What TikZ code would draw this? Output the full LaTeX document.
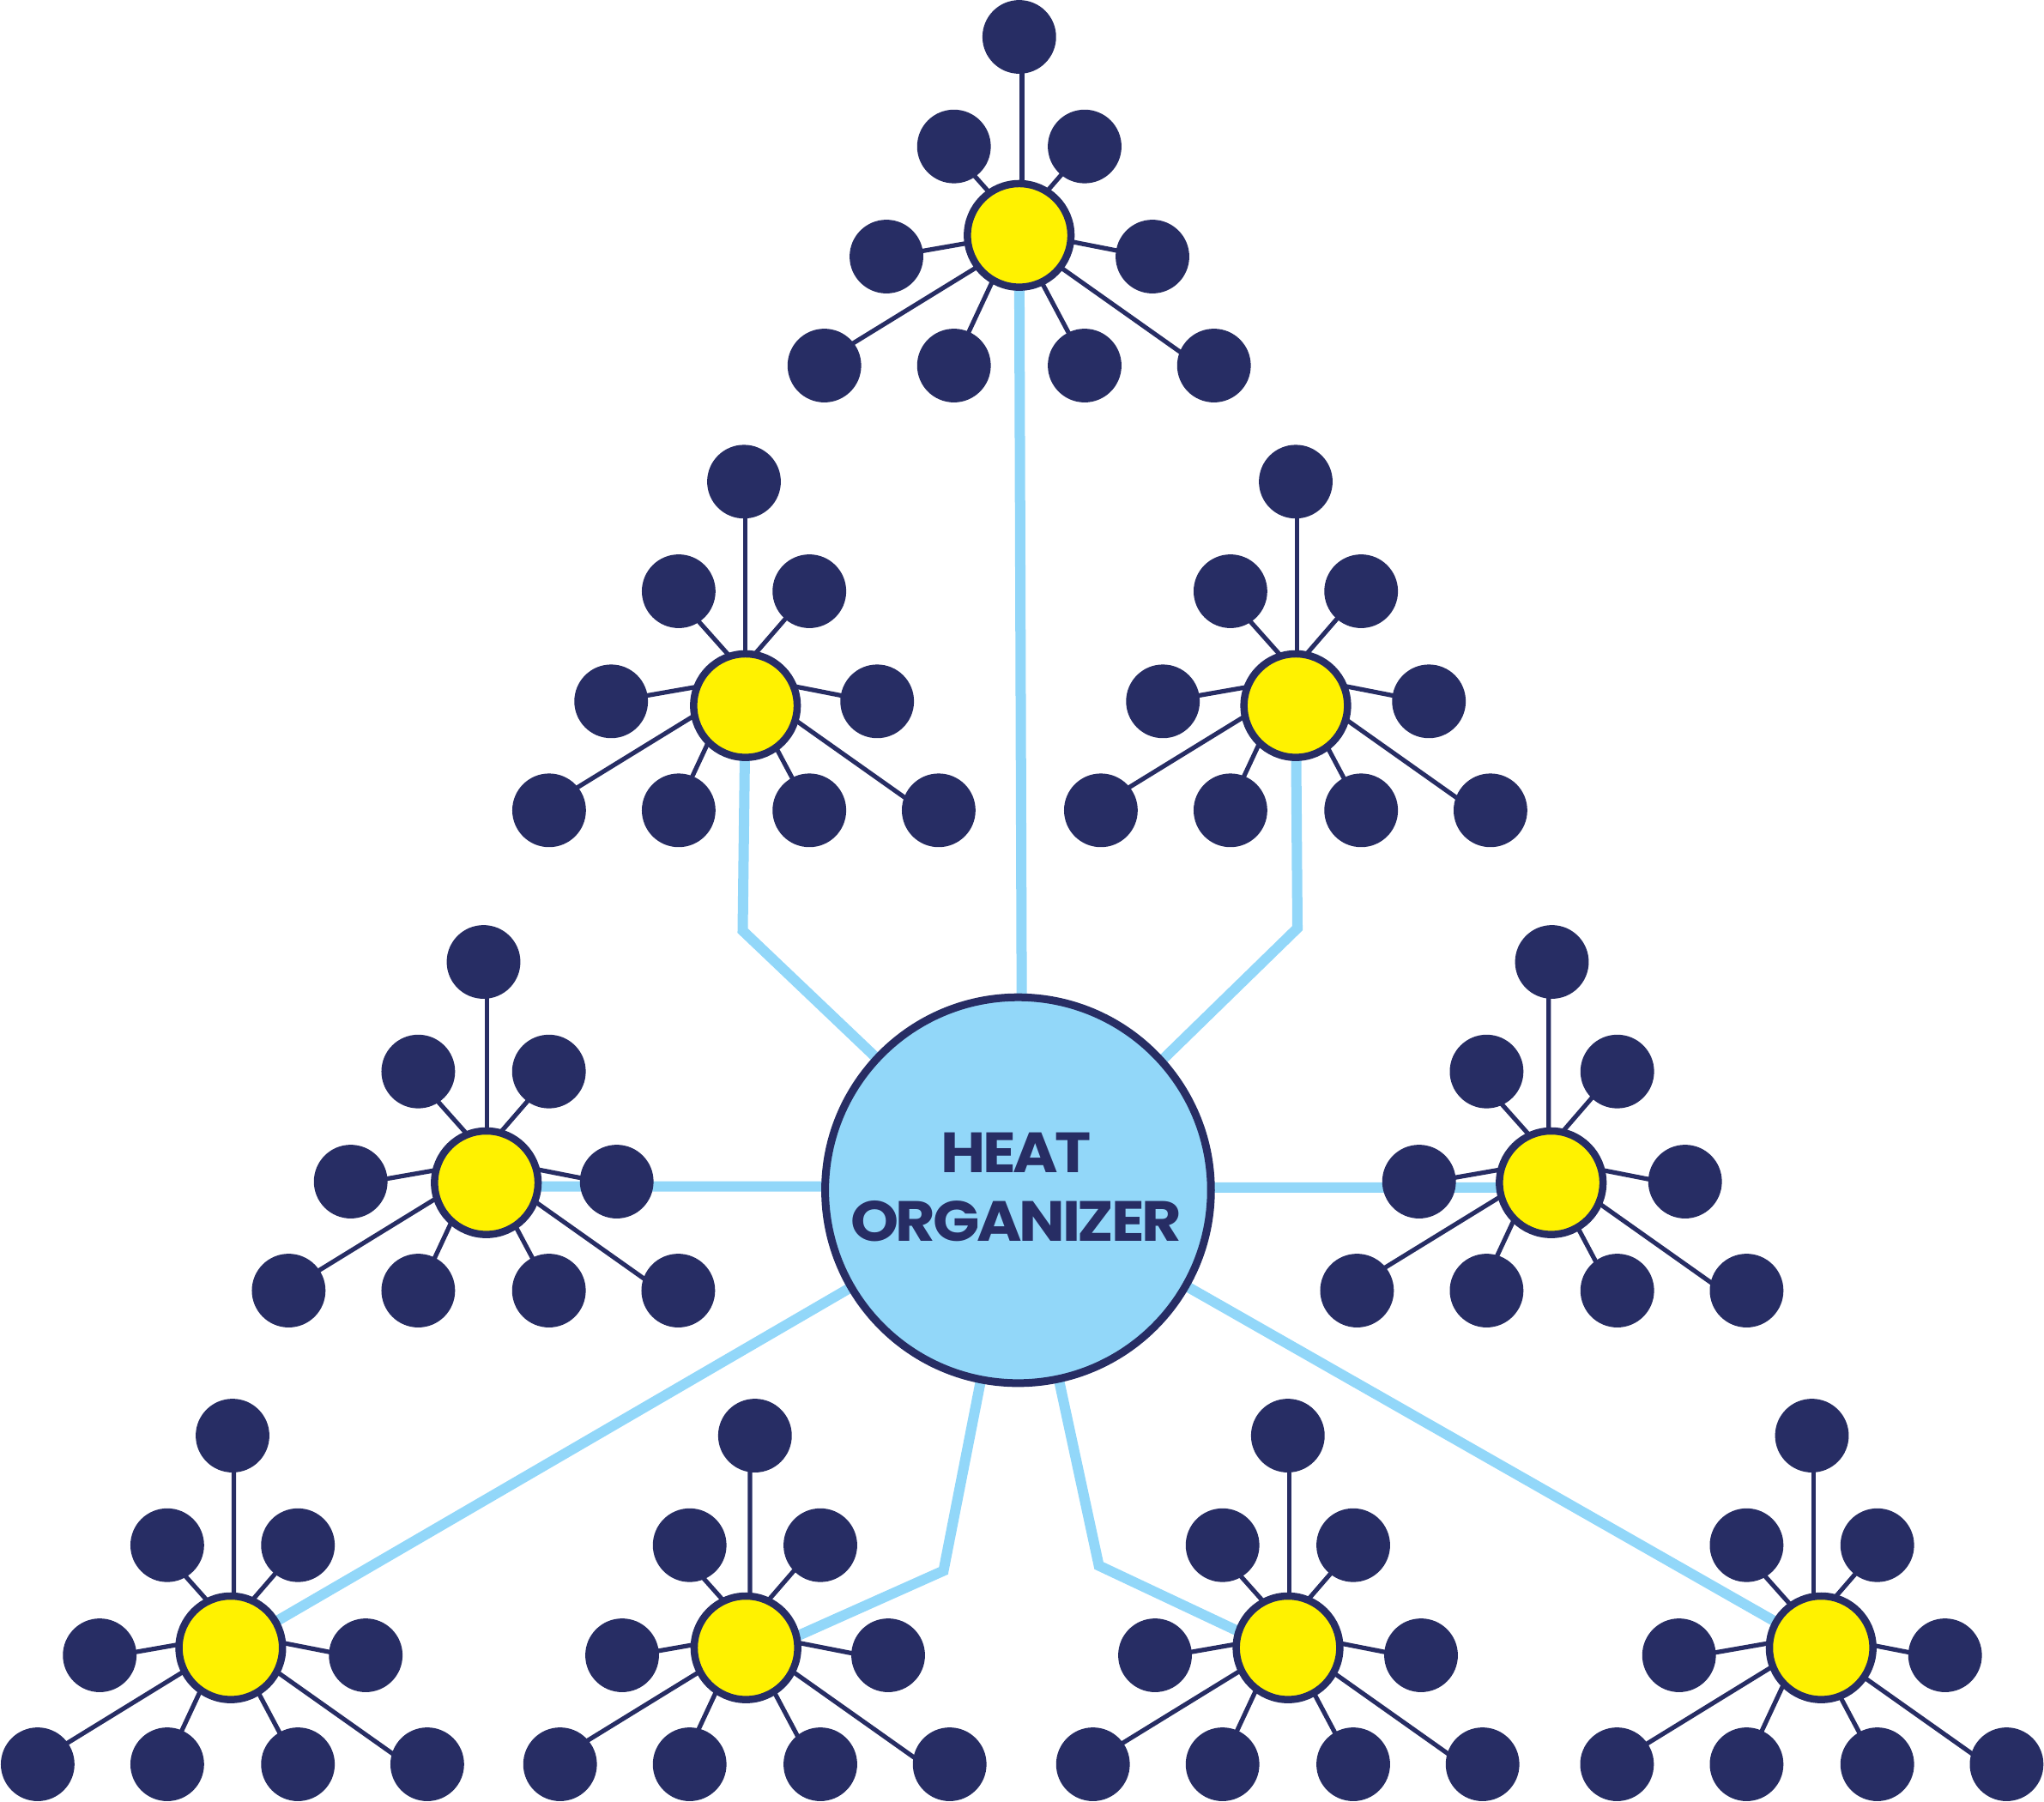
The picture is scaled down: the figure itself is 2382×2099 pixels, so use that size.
\documentclass[tikz,border=0pt]{standalone}
\usepackage{fontspec}
\setmainfont{Poppins}
\newfontfamily\titlefont{Poppins}[FakeStretch=1.08,LetterSpace=-5]
\usetikzlibrary{backgrounds}
\definecolor{navy}{HTML}{272D64}
\definecolor{sky}{HTML}{92D7F9}
\definecolor{sun}{HTML}{FFF200}
\pgfdeclarelayer{feeders}
\pgfdeclarelayer{spokes}
\pgfsetlayers{feeders,spokes,main}
\tikzset{
  satnode/.style={circle,fill=navy,draw=none,inner sep=0pt,minimum size=0.858cm},
  hubnode/.style={circle,fill=sun,draw=navy,line width=0.85mm,inner sep=0pt,minimum size=1.206cm},
  corenode/.style={circle,fill=sky,draw=navy,line width=0.9mm,inner sep=0pt,minimum size=4.494cm},
  titlenode/.style={inner sep=0pt,text=navy,align=center,font=\titlefont\fontsize{18.8}{22.76}\selectfont\bfseries},
  spoke/.style={draw=navy,line width=0.52mm},
  feeder/.style={draw=sky,line width=1.2mm,line join=miter}
}
% name, group origin x y, hub x y, spoke shift x y
\newcommand{\starcluster}[7]{%
  \node[hubnode] (#1) at (#4,#5) {};
  \foreach \n/\Sx/\Sy/\Px/\Py/\Qx/\Qy in {
    t/0/0/3.2/215/3.2/20,
    ul/-76.1/127.7/-12/207/-61/152,
    ur/76.2/127.7/9.8/206/58.7/149.5,
    ml/-154.8/256/-30/235/-125/251.6,
    mr/155.2/256/30/232.6/125/251.2,
    fl/-227.1/383/-30/256.4/-205/364,
    bl/-76.1/383/-24.4/270/-66.4/360,
    br/76.2/383/17.7/270/65.5/360,
    fr/226.9/383/30/255.7/200/376}{
    \pgfmathsetmacro{\px}{#2+\Sx}%
    \pgfmathsetmacro{\py}{#3+\Sy}%
    \pgfmathsetmacro{\hx}{\Px+#6+#2-#4}%
    \pgfmathsetmacro{\hy}{\Py+#7+#3-#5}%
    \pgfmathsetmacro{\tx}{\Qx+#6-\Sx}%
    \pgfmathsetmacro{\ty}{\Qy+#7-\Sy}%
    \node[satnode] (#1-\n) at (\px,\py) {};
    \begin{pgfonlayer}{spokes}
      \draw[spoke] ([shift={(\hx,\hy)}]#1.center) -- ([shift={(\tx,\ty)}]#1-\n.center);
    \end{pgfonlayer}
  }
}
\begin{document}
\begin{tikzpicture}[x=0.01cm,y=-0.01cm]
\useasboundingbox (0,0) rectangle (2382,2099);
\node[corenode] (core) at (1186.4,1387) {};
\node[titlenode] (title) at (1184,1383.5) {HEAT\\ORGANIZER};
\starcluster{A}{1187.8}{43}{1187.7}{274.3}{0}{0}
\starcluster{B}{867}{561.3}{868.7}{822.3}{-1.5}{0}
\starcluster{C}{1510}{561.3}{1510}{822.3}{-1.7}{0}
\starcluster{D}{563.5}{1121}{566.7}{1378.3}{1}{3}
\starcluster{E}{1808.5}{1121}{1807.7}{1378.3}{-7}{3}
\starcluster{F}{271}{1673}{268.9}{1920.3}{-1.7}{3}
\starcluster{G}{879.8}{1673}{869.3}{1920.3}{-9}{3}
\starcluster{H}{1500.8}{1673}{1501}{1920.3}{-1.7}{3}
\starcluster{I}{2111.5}{1673}{2122.3}{1920.3}{-1}{3.5}
\coordinate (bendB) at (865.5,1084.6);
\coordinate (bendC) at (1512,1081.6);
\coordinate (bendG) at (1099.5,1830.5);
\coordinate (bendH) at (1280.6,1824.5);
\begin{pgfonlayer}{feeders}
  \draw[feeder] (A.center) -- ([xshift=0.05cm]core.center);
  \draw[feeder] (B.center) -- (bendB) -- ([yshift=-0.03cm]core.center);
  \draw[feeder] (C.center) -- (bendC) -- ([yshift=-0.12cm]core.center);
  \draw[feeder] ([yshift=-0.044cm]D.center) -- ([yshift=0.043cm]core.center);
  \draw[feeder] ([yshift=-0.055cm]E.center) -- ([yshift=0.03cm]core.center);
  \draw[feeder] (F.center) -- (core.center);
  \draw[feeder] ([yshift=-0.13cm]G.center) -- (bendG) -- (core.center);
  \draw[feeder] ([yshift=-0.08cm]H.center) -- (bendH) -- (core.center);
  \draw[feeder] (I.center) -- (core.center);
\end{pgfonlayer}
\end{tikzpicture}
\end{document}
